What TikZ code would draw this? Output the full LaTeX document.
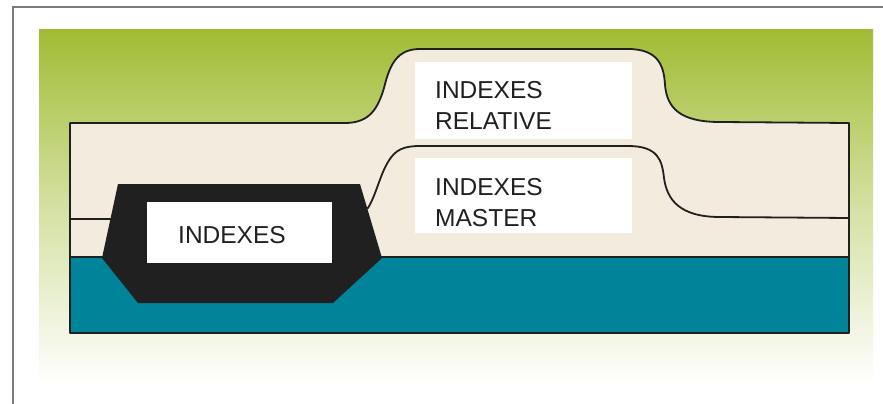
\documentclass[tikz,border=0pt]{standalone}
\usepackage{fontspec}
\setmainfont{Liberation Sans}
\begin{document}
\definecolor{leaf}{RGB}{161,188,52}
\definecolor{sand}{RGB}{243,235,222}
\definecolor{sea}{RGB}{0,132,153}
\definecolor{ink}{RGB}{32,32,32}
\definecolor{frame}{RGB}{125,125,125}
\begin{tikzpicture}[x=1pt,y=-1pt,
  outline/.style={draw=ink,line width=1.8pt,line join=round},
  label/.style={anchor=base west,inner sep=0pt,text=ink,font=\fontsize{24.5}{30}\selectfont},
  whitebox/.style={fill=white,draw=none,inner sep=0pt,anchor=north west}]
\useasboundingbox (0,0) rectangle (883,404);
% page frame
\draw[frame,line width=1.3pt] (13,404) -- (13,7) -- (883,7);
% green backdrop fading downwards
\shade[top color=leaf,bottom color=white,middle color=leaf!45!white] (39,30) rectangle (873,386);
% beige body with the raised relative-index bump
\fill[sand] (70,123) -- (345,123) .. controls (370,123) and (378,108) .. (384,88)
  .. controls (390,63) and (398,49) .. (420,49) -- (628,49)
  .. controls (660,49) and (664,68) .. (665,85)
  .. controls (667,108) and (680,122) .. (720,122) -- (849,123)
  -- (849,257) -- (70,257) -- cycle;
% teal base layer
\fill[sea] (70,257) rectangle (849,333);
% outline of the body
\draw[outline] (70,333) -- (70,123) -- (345,123) .. controls (370,123) and (378,108) .. (384,88)
  .. controls (390,63) and (398,49) .. (420,49) -- (628,49)
  .. controls (660,49) and (664,68) .. (665,85)
  .. controls (667,108) and (680,122) .. (720,122) -- (849,123) -- (849,333) -- cycle;
\draw[draw=ink,line width=1.5pt] (70,257) -- (849,257);
% master-index boundary
\draw[outline] (70,219) -- (250,219) -- (368,208)
  .. controls (376,195) and (380,175) .. (388,162)
  .. controls (395,150) and (403,146) .. (420,146) -- (628,146)
  .. controls (658,146) and (662,160) .. (664,178)
  .. controls (667,200) and (680,217) .. (720,217) -- (849,218);
% black index block
\fill[ink] (118,184) -- (360,184) -- (382,258) -- (333,303) -- (138,303) -- (102,258) -- cycle;
% white label boxes
\node[whitebox,minimum width=185pt,minimum height=61pt] (idxbox) at (147,202) {};
\node[whitebox,minimum width=217pt,minimum height=77pt] (relbox) at (415,62) {};
\node[whitebox,minimum width=217pt,minimum height=75pt] (masbox) at (415,158) {};
% labels
\node[label] (idx) at (178,243) {INDEXES};
\node[label] (rel1) at (435,98) {INDEXES};
\node[label] (rel2) at (435,129) {RELATIVE};
\node[label] (mas1) at (435,195) {INDEXES};
\node[label] (mas2) at (435,226) {MASTER};
\end{tikzpicture}
\end{document}
